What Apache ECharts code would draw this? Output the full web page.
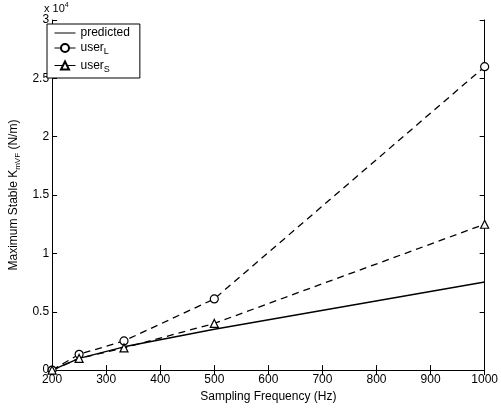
<!DOCTYPE html>
<html><head><meta charset="utf-8">
<script src="https://cdn.jsdelivr.net/npm/echarts@6/dist/echarts.min.js"></script>
<style>html,body{margin:0;padding:0;background:#fff}#c{width:501px;height:408px}</style>
</head><body><div id="c"></div>
<script>
const freqs = [200, 250, 333, 500, 1000];
const predicted = [0, 0.1, 0.2, 0.35, 0.755];
const userL = [0, 0.135, 0.25, 0.61, 2.6];
const userS = [0, 0.1, 0.19, 0.4, 1.25];
const xTicks = [200, 300, 400, 500, 600, 700, 800, 900, 1000];
const yTicks = [0, 0.5, 1, 1.5, 2, 2.5, 3];

const FONT = 'Liberation Sans';
const pair = (xs, ys) => xs.map((x, i) => [x, ys[i]]);
const chart = echarts.init(document.getElementById('c'));
const axisLine = {show: true, lineStyle: {color: '#000', width: 1}};
const tick = {show: true, inside: true, length: 5, lineStyle: {color: '#000'}};
const legendLine = {type: 'solid', width: 1, color: '#000'};
chart.setOption({
  animation: false,
  textStyle: {fontFamily: FONT},
  grid: {left: 42, right: 10, top: 20, bottom: 33},
  graphic: [{
    type: 'text', left: 44, top: 2,
    style: {text: 'x 10{sup|4}', fontFamily: FONT, fontSize: 11, fill: '#000',
      rich: {sup: {fontSize: 7, verticalAlign: 'top', padding: [0, 0, 6, 0], fontFamily: FONT}}}
  }],
  legend: {
    show: true, orient: 'vertical', left: 47, top: 24,
    backgroundColor: '#fff', borderColor: '#000', borderWidth: 1,
    padding: [3, 10, 4, 7], itemGap: 3, itemWidth: 21, itemHeight: 10,
    textStyle: {fontFamily: FONT, fontSize: 12, color: '#000',
      rich: {sub: {fontSize: 9, verticalAlign: 'bottom', padding: [8, 0, 0, 0], fontFamily: FONT, color: '#000'}}},
    formatter: n => n === 'predicted' ? 'predicted' : (n === 'user_L' ? 'user{sub|L}' : 'user{sub|S}'),
    data: [
      {name: 'predicted', icon: 'path://M0,5L21,5L21,6L0,6Z'},
      {name: 'user_L', lineStyle: legendLine},
      {name: 'user_S', lineStyle: legendLine}
    ]
  },
  xAxis: [{
    type: 'value', min: 200, max: 1000, interval: 100,
    name: 'Sampling Frequency (Hz)', nameLocation: 'middle', nameGap: 20,
    nameTextStyle: {fontFamily: FONT, fontSize: 12, color: '#000'},
    axisLine, axisTick: tick, splitLine: {show: false},
    axisLabel: {fontFamily: FONT, fontSize: 12, color: '#000', margin: 4,
      formatter: v => xTicks.includes(v) ? String(v) : ''}
  }, {
    type: 'value', position: 'top', min: 200, max: 1000, interval: 100,
    axisLine, axisTick: tick, axisLabel: {show: false}, splitLine: {show: false}
  }],
  yAxis: [{
    type: 'value', min: 0, max: 3, interval: 0.5,
    name: 'Maximum Stable K{sub|mVF} (N/m)', nameLocation: 'middle', nameGap: 27, nameRotate: 90,
    nameTextStyle: {fontFamily: FONT, fontSize: 12, color: '#000',
      rich: {sub: {fontSize: 8, verticalAlign: 'bottom', padding: [7, 0, 0, 0], fontFamily: FONT, color: '#000'}}},
    axisLine, axisTick: tick, splitLine: {show: false},
    axisLabel: {fontFamily: FONT, fontSize: 12, color: '#000', margin: 3,
      formatter: v => yTicks.includes(v) ? String(v) : ''}
  }, {
    type: 'value', position: 'right', min: 0, max: 3, interval: 0.5,
    axisLine, axisTick: tick, axisLabel: {show: false}, splitLine: {show: false}
  }],
  series: [{
    name: 'predicted', type: 'line', data: pair(freqs, predicted),
    showSymbol: false, symbol: 'none',
    lineStyle: {color: '#000', width: 1.3}, itemStyle: {color: '#000'}, z: 3
  }, {
    name: 'user_L', type: 'line', data: pair(freqs, userL),
    symbol: 'circle', symbolSize: 8,
    lineStyle: {color: '#000', width: 1.3, type: [7, 5]},
    itemStyle: {color: '#fff', borderColor: '#000', borderWidth: 1.2}
  }, {
    name: 'user_S', type: 'line', data: pair(freqs, userS),
    symbol: 'triangle', symbolSize: 8,
    lineStyle: {color: '#000', width: 1.3, type: [7, 5]},
    itemStyle: {color: '#fff', borderColor: '#000', borderWidth: 1.2}
  }]
});
</script></body></html>
